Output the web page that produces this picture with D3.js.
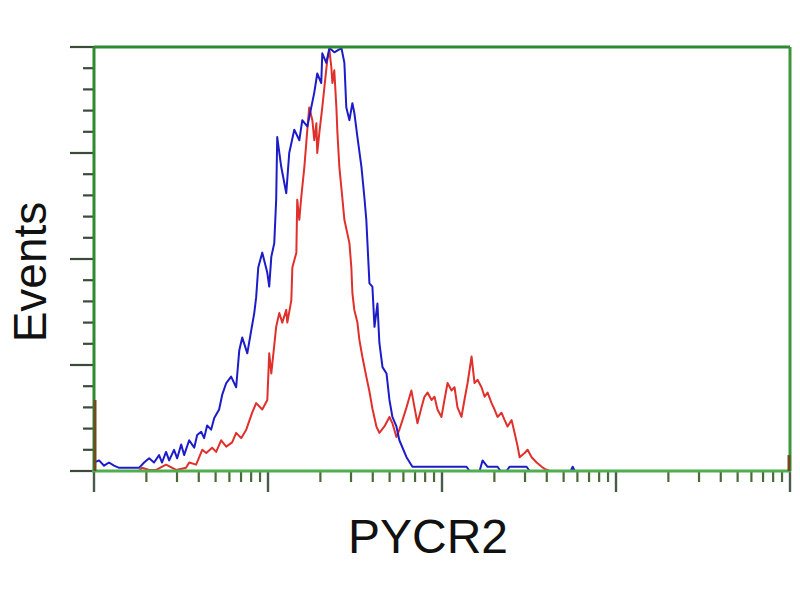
<!DOCTYPE html>
<html>
<head>
<meta charset="utf-8">
<script src="https://cdn.jsdelivr.net/npm/d3@7"></script>
<style>
  html, body { margin: 0; padding: 0; background: #fff; }
  svg { display: block; }
</style>
</head>
<body>
<svg id="chart" width="800" height="600"></svg>
<script>
// ---- data (log10 intensity, events) ----
const blueLog = [0,0.029,0.058,0.086,0.115,0.144,0.201,0.259,0.288,0.317,0.345,0.374,0.391,0.414,0.432,0.46,0.478,0.501,0.518,0.547,0.576,0.593,0.616,0.633,0.65,0.673,0.691,0.719,0.737,0.76,0.788,0.817,0.835,0.852,0.881,0.904,0.921,0.932,0.944,0.967,0.996,1.007,1.019,1.036,1.047,1.053,1.076,1.105,1.122,1.151,1.18,1.197,1.226,1.266,1.283,1.306,1.312,1.335,1.353,1.381,1.422,1.439,1.45,1.468,1.485,1.496,1.514,1.537,1.554,1.565,1.583,1.6,1.612,1.629,1.64,1.658,1.681,1.698,1.715,1.738,1.755,1.796,1.83,2.141,2.158,2.216,2.233,2.262,2.319,2.337,2.371,2.388,2.486,2.504,2.74,2.751,2.763,3.971];
const blueCount = [8,10,5,8,5,3,3,3,8,12,8,15,8,18,10,20,12,25,15,29,22,34,37,31,43,39,50,58,72,83,89,79,114,126,111,133,149,164,192,206,187,174,202,215,256,315,287,262,300,322,312,331,325,357,375,366,394,385,399,395,399,385,343,331,347,338,315,287,258,237,177,174,136,158,121,98,92,67,51,42,29,13,4,4,0,0,10,4,4,0,0,4,4,0,0,4,0,0];

const redLog = [0.029,0.259,0.276,0.317,0.357,0.414,0.472,0.529,0.547,0.587,0.622,0.645,0.679,0.702,0.731,0.76,0.794,0.817,0.846,0.875,0.909,0.932,0.967,0.996,1.007,1.019,1.047,1.065,1.082,1.105,1.111,1.134,1.14,1.163,1.168,1.18,1.191,1.209,1.226,1.237,1.255,1.266,1.278,1.283,1.295,1.312,1.324,1.341,1.353,1.364,1.37,1.381,1.393,1.399,1.41,1.427,1.439,1.468,1.479,1.485,1.496,1.514,1.525,1.542,1.565,1.583,1.6,1.623,1.64,1.669,1.698,1.715,1.738,1.755,1.773,1.796,1.824,1.842,1.859,1.882,1.899,1.917,1.94,1.957,1.974,1.997,2.014,2.032,2.055,2.072,2.089,2.112,2.129,2.147,2.17,2.187,2.204,2.227,2.245,2.262,2.285,2.302,2.319,2.342,2.36,2.377,2.4,2.417,2.435,2.446,2.475,2.492,2.515,2.544,2.573,2.59,2.619,3.971];
const redCount = [0,0,3,1,1,6,1,3,8,6,20,17,22,18,29,23,27,36,31,39,55,64,58,67,111,92,136,149,140,152,140,161,192,206,256,237,258,287,322,343,331,312,328,300,319,343,362,388,397,381,366,378,343,319,287,258,237,215,192,168,152,140,124,108,89,75,59,42,36,42,51,45,32,39,48,60,76,60,45,60,70,74,67,70,58,51,67,83,76,79,60,51,67,83,108,83,86,79,70,74,64,58,51,55,48,42,48,36,23,13,17,20,13,8,4,2,0,0];

// off-scale piles at the two ends of the range
const edgeLog = [0, 4];
const edgeCount = [67, 15];

const yMajor = [0, 100, 200, 300, 400];
const yMinorStep = 20;
const xDecades = [1, 10, 100, 1000, 10000];
const xLabel = "PYCR2";
const yLabel = "Events";

// ---- layout ----
const svg = d3.select("#chart");
const L = 94, R = 790, T = 47, B = 471;
const x = d3.scaleLog().domain([1, 10000]).range([L, R]);
const y = d3.scaleLinear().domain([0, 400]).range([B, T]);

// y ticks
const yMinor = d3.range(0, 400 + 1e-9, yMinorStep).filter(v => !yMajor.includes(v));
const tickCol = "#3b4a3b";
svg.append("g").selectAll("line").data(yMinor).join("line")
  .attr("x1", L - 11).attr("x2", L).attr("y1", d => y(d)).attr("y2", d => y(d))
  .attr("stroke", tickCol).attr("stroke-width", 2.2);
svg.append("g").selectAll("line").data(yMajor).join("line")
  .attr("x1", L - 24).attr("x2", L).attr("y1", d => y(d)).attr("y2", d => y(d))
  .attr("stroke", tickCol).attr("stroke-width", 2.2);

// x ticks
const xMinor = [];
xDecades.slice(0, -1).forEach(d => { for (let k = 2; k <= 9; k++) xMinor.push(d * k); });
svg.append("g").selectAll("line").data(xMinor).join("line")
  .attr("x1", d => x(d)).attr("x2", d => x(d)).attr("y1", B).attr("y2", B + 11)
  .attr("stroke", "#4a6a3a").attr("stroke-width", 2.2);
svg.append("g").selectAll("line").data(xDecades).join("line")
  .attr("x1", d => x(d)).attr("x2", d => x(d)).attr("y1", B).attr("y2", B + 21)
  .attr("stroke", "#4a5a4a").attr("stroke-width", 2.4);

// curves
const line = (lx, cy) => d3.line()
  .x((d, i) => x(Math.pow(10, lx[i])))
  .y((d, i) => y(cy[i]))(cy);

svg.append("path").attr("d", line(redLog, redCount))
  .attr("fill", "none").attr("stroke", "#e0302c").attr("stroke-width", 2)
  .attr("stroke-linejoin", "round");
svg.append("path").attr("d", line(blueLog, blueCount))
  .attr("fill", "none").attr("stroke", "#1c1cc8").attr("stroke-width", 2)
  .attr("stroke-linejoin", "round");

// frame
svg.append("line").attr("x1", L).attr("x2", R).attr("y1", T).attr("y2", T)
  .attr("stroke", "#2f8a2f").attr("stroke-width", 3);
svg.append("line").attr("x1", R).attr("x2", R).attr("y1", T).attr("y2", B)
  .attr("stroke", "#3a963a").attr("stroke-width", 3);
svg.append("line").attr("x1", L).attr("x2", L).attr("y1", T).attr("y2", B)
  .attr("stroke", "#2f8a2f").attr("stroke-width", 3);
svg.append("line").attr("x1", L - 2).attr("x2", R + 1).attr("y1", B).attr("y2", B)
  .attr("stroke", "#4fae4f").attr("stroke-width", 3);

// edge piles (drawn over the frame)
svg.append("g").selectAll("line").data(edgeCount).join("line")
  .attr("x1", (d, i) => x(Math.pow(10, edgeLog[i])) + (i === 0 ? 1 : -1))
  .attr("x2", (d, i) => x(Math.pow(10, edgeLog[i])) + (i === 0 ? 1 : -1))
  .attr("y1", B).attr("y2", d => y(d))
  .attr("stroke", "#6e4a1e").attr("stroke-width", 3);

// labels
svg.append("text").attr("x", 428).attr("y", 553)
  .attr("text-anchor", "middle")
  .attr("font-family", "Liberation Sans, Arial, sans-serif")
  .attr("font-size", 48).attr("fill", "#111")
  .text(xLabel);
svg.append("text")
  .attr("transform", "translate(46,272) rotate(-90)")
  .attr("text-anchor", "middle")
  .attr("font-family", "Liberation Sans, Arial, sans-serif")
  .attr("font-size", 46).attr("fill", "#111")
  .text(yLabel);
</script>
</body>
</html>
